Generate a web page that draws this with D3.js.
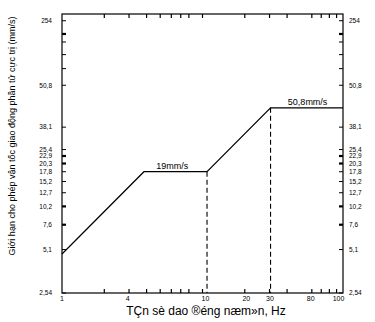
<!DOCTYPE html>
<html>
<head>
<meta charset="utf-8">
<script src="https://cdn.jsdelivr.net/npm/d3@7"></script>
<style>
  body { margin: 0; background: #fff; }
  text { font-family: Arial, "Liberation Sans", sans-serif; fill: #000; }
</style>
</head>
<body>
<svg id="chart"></svg>
<script>
// data
const freqs = [1, 3.83, 10.77, 30.5, 100];        // Hz
const speeds = [4.75, 17.8, 17.8, 49.6, 49.6];    // mm/s
const dashedIdx = [2, 3];

const lineLabels = ['19mm/s', '50,8mm/s'];
const lineLabelFreq = [6.1, 56];
const lineLabelSpeed = [17.8, 49.6];

// y axis (tick positions as they sit in the picture, and their texts)
const yTickAt = [2.54, 5.1, 7.6, 10.2, 12.7, 15.2, 17.8, 20.3, 22.9, 25.4, 36.4, 71.3, 200.9];
const yTickLabels = ['2,54', '5,1', '7,6', '10,2', '12,7', '15,2', '17,8', '20,3', '22,9', '25,4', '38,1', '50,8', '254'];
const yMinorAt = [93.1, 116.6, 142.8, 162.4];
const yBoldAt = [7.6, 10.2, 20.3, 22.9, 162.4];

// x axis
const xTickAt = [2, 3, 4, 5, 6, 7, 8, 10, 20, 30, 40, 60, 70, 80, 90];
const xLabelAt = [1, 2.93, 10.5, 20.5, 30.2, 58.9, 93];
const xLabels = ['1', '4', '10', '20', '30', '80', '100'];

const xTitle = 'TÇn sè dao ®éng næm»n, Hz';
const yTitle = 'Giới hạn cho phép vận tốc giao động phần tử cực trị (mm/s)';

const W = 375, H = 322;
const margin = { top: 14, right: 32, bottom: 29, left: 62 };
const width = W - margin.left - margin.right;
const height = H - margin.top - margin.bottom;

const svg = d3.select('#chart').attr('width', W).attr('height', H);
const g = svg.append('g').attr('transform', `translate(${margin.left},${margin.top})`);

const x = d3.scaleLog().domain([1, 100]).range([0, width]);
const y = d3.scaleLog().domain([2.54, 223.8]).range([height, 0]);

const tickLen = 4;

// frame
g.append('rect')
    .attr('width', width).attr('height', height)
    .attr('fill', 'none').attr('stroke', '#000').attr('stroke-width', 1.2);

// y ticks, left and right, pointing inward
const yAll = yTickAt.concat(yMinorAt);
[0, width].forEach((px, side) => {
    g.selectAll(null).data(yAll).enter().append('line')
        .attr('x1', px).attr('x2', side ? px - tickLen : px + tickLen)
        .attr('y1', d => y(d)).attr('y2', d => y(d))
        .attr('stroke', '#000')
        .attr('stroke-width', d => yBoldAt.includes(d) ? 2.2 : 1);
});

// y labels
g.selectAll(null).data(yTickAt).enter().append('text')
    .attr('x', -10).attr('y', d => y(d)).attr('dy', '0.35em')
    .attr('text-anchor', 'end').style('font-size', '6.5px')
    .text((d, i) => yTickLabels[i]);
g.selectAll(null).data(yTickAt).enter().append('text')
    .attr('x', width + 6).attr('y', d => y(d)).attr('dy', '0.35em')
    .attr('text-anchor', 'start').style('font-size', '6.5px')
    .text((d, i) => yTickLabels[i]);

// x ticks, bottom and top, pointing inward
[height, 0].forEach((py, side) => {
    g.selectAll(null).data(xTickAt).enter().append('line')
        .attr('x1', d => x(d)).attr('x2', d => x(d))
        .attr('y1', py).attr('y2', side ? py + tickLen : py - tickLen)
        .attr('stroke', '#000').attr('stroke-width', 1.2);
});

// x labels
g.selectAll(null).data(xLabelAt).enter().append('text')
    .attr('x', d => x(d)).attr('y', height + 8)
    .attr('text-anchor', 'middle').style('font-size', '7px')
    .text((d, i) => xLabels[i]);

// limit line
const line = d3.line().x((d, i) => x(freqs[i])).y(d => y(d));
g.append('path')
    .datum(speeds)
    .attr('fill', 'none')
    .attr('stroke', '#000')
    .attr('stroke-width', 1.2)
    .attr('d', line);

// dashed drops
g.selectAll(null).data(dashedIdx).enter().append('line')
    .attr('x1', i => x(freqs[i])).attr('x2', i => x(freqs[i]))
    .attr('y1', i => y(speeds[i])).attr('y2', height)
    .attr('stroke', '#000').attr('stroke-width', 1.1)
    .attr('stroke-dasharray', '5,3');

// line labels
g.selectAll(null).data(lineLabels).enter().append('text')
    .attr('x', (d, i) => x(lineLabelFreq[i]))
    .attr('y', (d, i) => y(lineLabelSpeed[i]) - 3)
    .attr('text-anchor', 'middle').style('font-size', '9px')
    .text(d => d);

// axis titles
svg.append('text')
    .attr('x', 206).attr('y', 315)
    .attr('text-anchor', 'middle').style('font-size', '12px')
    .text(xTitle);

svg.append('text')
    .attr('transform', 'translate(15,136) rotate(-90)')
    .attr('text-anchor', 'middle').style('font-size', '9px')
    .text(yTitle);
</script>
</body>
</html>
